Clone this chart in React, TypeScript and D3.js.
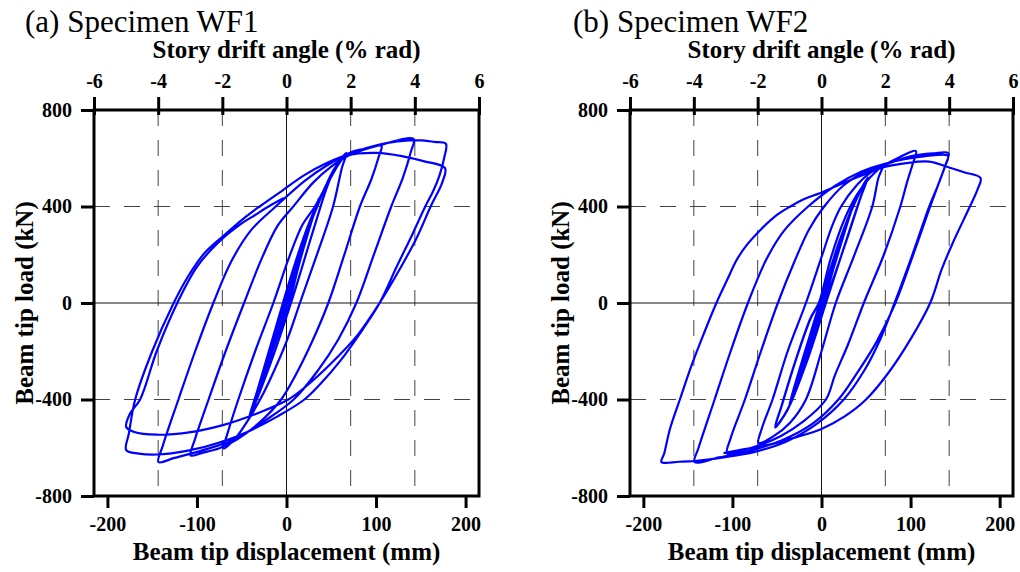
import React, { useRef, useEffect } from 'react';
import * as d3 from 'd3';

type Pt = [number, number];

// axis ticks
const dispTicks = [-200, -100, 0, 100, 200];
const driftTicks = [-6, -4, -2, 0, 2, 4, 6];
const loadTicks = [-800, -400, 0, 400, 800];
const driftGrid = [-4, -2, 2, 4];
const loadGrid = [-400, 400];

const panelTitles = ['(a) Specimen WF1', '(b) Specimen WF2'];

// ---- Specimen WF1: beam tip displacement (mm), load (kN), in loading order ----
const wf1Elastic: Pt[] = [
  [0, 0], [7, 90], [13, 165], [9, 112], [2, 18], [-4, -48], [-13, -162], [-9, -108], [-2, -16],
  [4, 52], [18, 226], [13, 164], [4, 48], [-6, -78], [-18, -222], [-13, -160], [-4, -46],
  [6, 80], [27, 332], [20, 248], [8, 94], [-8, -102], [-27, -332], [-20, -244], [-8, -88],
  [8, 104], [36, 432], [28, 338], [14, 160], [3, 0], [-14, -182], [-36, -432], [-28, -330], [-14, -148], [-2, 10],
  [20, 262], [40, 452], [53, 556], [44, 468], [28, 278], [5, 0], [-18, -252], [-42, -475], [-33, -368], [-18, -178], [-4, 0],
];
const wf1Cycle2: Pt[] = [
  [10, 170], [25, 330], [40, 455], [55, 565], [67, 621],
  [62, 562], [52, 400], [33, 190], [15, 0], [0, -160], [-15, -290], [-28, -390], [-42, -480], [-57, -560], [-70, -603],
  [-65, -530], [-53.8, -400], [-35, -200], [-14.7, 0], [3, 190], [18, 325], [31.8, 400], [48, 510], [67, 615], [88, 640], [106, 652],
];
const wf1Cycle3: Pt[] = [
  [103, 606], [95, 515], [82, 400], [65, 205], [46.7, 0], [28, -165], [10, -300], [-6, -400], [-30, -495], [-55, -565], [-75, -602], [-95, -622], [-107, -632],
  [-102, -562], [-87, -400], [-68, -200], [-47.4, 0], [-27, 190], [-10, 320], [7.6, 400], [30, 500], [50, 565], [70, 612], [105, 655], [142, 680],
];
const wf1Cycle4: Pt[] = [
  [139, 628], [130, 520], [117, 400], [98, 205], [78, 0], [58, -150], [35, -280], [8, -400], [-25, -490], [-60, -568], [-95, -612], [-125, -642], [-143, -659],
  [-138, -590], [-120.7, -400], [-102, -200], [-81.7, 0], [-62, 170], [-40, 300], [-12, 400], [20, 505], [45, 570], [70, 618], [105, 658], [142, 675], [165, 668], [178, 660],
];
const wf1Cycle5a: Pt[] = [
  [176, 600], [171, 530], [164, 465], [155, 400], [140, 280], [123, 150], [104, 0], [85, -110], [60, -240], [38, -335], [20, -400], [-10, -470], [-40, -528], [-72, -575], [-110, -612], [-145, -628], [-165, -624], [-179, -610],
  [-176, -540], [-169, -400], [-150, -200], [-126, 0], [-110, 110], [-92, 205], [-70, 280], [-48, 350], [-30, 400], [-5, 465], [20, 530], [45, 580], [67, 612], [101, 622], [130, 608], [153, 588], [177, 559],
];
const wf1Cycle5b: Pt[] = [
  [174, 500], [161, 400], [146, 275], [128, 150], [104, 0], [80, -130], [50, -250], [22, -345], [2, -400], [-33, -458], [-70, -505], [-107, -535], [-145, -546], [-170, -535], [-179, -514],
  [-175, -460], [-163.5, -400], [-145, -200], [-122, 0], [-100, 150], [-75, 255], [-50, 330], [-35, 365], [-20, 400], [-3, 435],
];

// ---- Specimen WF2 ----
const wf2Elastic: Pt[] = [
  [0, 0], [7, 85], [13, 160], [9, 108], [2, 15], [-4, -50], [-13, -160], [-9, -105], [-2, -14],
  [4, 48], [18, 216], [13, 156], [4, 44], [-6, -76], [-18, -216], [-13, -154], [-4, -40],
  [6, 72], [27, 320], [20, 240], [8, 90], [-8, -100], [-27, -322], [-20, -240], [-8, -84],
  [8, 96], [36, 412], [28, 318], [14, 150], [2, 0], [-14, -182], [-36, -420], [-28, -318], [-14, -148], [-1, 8],
  [12, 150], [36, 410], [28, 320], [14, 152], [3, 0], [-14, -180], [-36, -418], [-28, -316], [-14, -146], [-1, 10],
  [20, 250], [38, 420], [52, 518], [44, 438], [28, 258], [4, 0], [-18, -250], [-38, -440], [-52, -514], [-45, -428], [-30, -248], [-12, -60], [-3, 0],
  [20, 255], [38, 425], [52, 520], [44, 440], [28, 262], [5, 0], [-17, -248], [-38, -442], [-52, -516], [-45, -430], [-30, -250], [-12, -62], [-3, 0],
];
const wf2Cycle2: Pt[] = [
  [10, 180], [25, 340], [40, 450], [55, 522], [68.8, 566],
  [64, 520], [57, 400], [36, 190], [16, 0], [0, -200], [-17.5, -400], [-35, -495], [-55, -555], [-70.7, -580],
  [-67, -520], [-55, -400], [-38, -200], [-17.5, 0], [0, 190], [12, 320], [22, 400], [40, 490], [55, 540], [68.8, 568], [88, 605], [106, 630],
];
const wf2Cycle3: Pt[] = [
  [102, 572], [96, 500], [88.5, 400], [70, 200], [47.5, 0], [30, -170], [15, -300], [5, -400], [-20, -490], [-45, -550], [-70, -590], [-90, -612], [-106, -624],
  [-102, -560], [-86, -400], [-68, -200], [-49, 0], [-30, 175], [-14, 305], [3, 400], [25, 488], [50, 545], [70, 572], [100, 608], [125, 620], [142.4, 621],
];
const wf2Cycle4a: Pt[] = [
  [139, 570], [132, 500], [122, 400], [103, 200], [83, 0], [62, -160], [40, -290], [19, -400], [-10, -500], [-45, -570], [-80, -612], [-115, -640], [-142.5, -659],
  [-138, -600], [-120, -400], [-102, -200], [-82.6, 0], [-62, 180], [-42, 300], [-15, 400], [15, 485], [45, 545], [70, 576], [100, 600], [125, 612], [142, 610],
];
const wf2Cycle4b: Pt[] = [
  [138, 560], [131, 490], [121, 400], [102, 200], [82, 0], [66, -150], [48, -280], [25, -400], [-5, -500], [-40, -575], [-75, -617], [-110, -640], [-142, -655], [-160, -658], [-179.7, -659],
];
const wf2Cycle5: Pt[] = [
  [-176.6, -624], [-170, -520], [-159, -400], [-146, -260], [-132, -126], [-118, 0], [-106, 95], [-95, 180], [-84, 240], [-68, 305], [-50, 365], [-35, 400], [-20, 430], [-2, 455], [20, 490], [43, 525], [69, 562], [95, 580], [121, 586], [140, 566], [160, 542], [178.6, 518],
  [175, 469], [166.6, 400], [147.5, 250], [135, 140], [122, 0], [100, -150], [76, -285], [50, -400], [26, -470], [0, -522], [-30, -558], [-60, -588], [-88, -607], [-110, -622],
];

const wf1Loops = [wf1Elastic, wf1Cycle2, wf1Cycle3, wf1Cycle4, wf1Cycle5a, wf1Cycle5b];
const wf2Loops = [wf2Elastic, wf2Cycle2, wf2Cycle3, wf2Cycle4a, wf2Cycle4b, wf2Cycle5];

const FONT = '"Liberation Serif", "Times New Roman", serif';

const panels = [
  { left: 94, width: 385, titleX: 25, loops: wf1Loops, title: panelTitles[0] },
  { left: 630, width: 383, titleX: 573, loops: wf2Loops, title: panelTitles[1] },
];

const TOP = 110;
const HEIGHT = 386;

export default function App() {
  const ref = useRef<SVGSVGElement>(null);

  useEffect(() => {
    const svg = d3.select(ref.current);
    svg.selectAll('*').remove();

    panels.forEach((p) => {
      const x = d3.scaleLinear().domain([-215, 215]).range([0, p.width]);
      const drift = d3.scaleLinear().domain([-6, 6]).range([0, p.width]);
      const y = d3.scaleLinear().domain([-800, 800]).range([HEIGHT, 0]);

      const g = svg.append('g').attr('transform', `translate(${p.left},${TOP})`);

      // grid
      g.selectAll('.vgrid').data(driftGrid).enter().append('line')
        .attr('x1', d => drift(d)).attr('x2', d => drift(d))
        .attr('y1', 0).attr('y2', HEIGHT)
        .attr('stroke', '#444').attr('stroke-width', 1).attr('stroke-dasharray', '16,14');
      g.selectAll('.hgrid').data(loadGrid).enter().append('line')
        .attr('x1', 0).attr('x2', p.width)
        .attr('y1', d => y(d)).attr('y2', d => y(d))
        .attr('stroke', '#444').attr('stroke-width', 1).attr('stroke-dasharray', '16,14');
      g.append('line').attr('x1', drift(0)).attr('x2', drift(0)).attr('y1', 0).attr('y2', HEIGHT)
        .attr('stroke', '#111').attr('stroke-width', 1);
      g.append('line').attr('x1', 0).attr('x2', p.width).attr('y1', y(0)).attr('y2', y(0))
        .attr('stroke', '#111').attr('stroke-width', 1);

      // hysteresis curve
      const pts = ([] as Pt[]).concat(...p.loops);
      const line = d3.line<Pt>()
        .x(d => x(d[0]))
        .y(d => y(d[1]))
        .curve(d3.curveCatmullRom.alpha(0.5));
      g.append('path')
        .attr('d', line(pts))
        .attr('fill', 'none')
        .attr('stroke', '#0000ff')
        .attr('stroke-width', 2.2)
        .attr('stroke-linejoin', 'round');

      // axes (plain hyphen for negatives, as in the original)
      const fmt = (d: any) => String(d);
      const styleAxis = (a: any) => {
        a.select('.domain').remove();
        a.selectAll('line').attr('stroke', '#000').attr('stroke-width', 3);
        a.selectAll('text')
          .attr('fill', '#000')
          .style('font-family', FONT)
          .style('font-weight', 'bold')
          .style('font-size', '20px');
      };

      g.append('g').attr('transform', `translate(0,${HEIGHT})`)
        .call(d3.axisBottom(x).tickValues(dispTicks).tickSize(12).tickSizeOuter(0).tickPadding(9).tickFormat(fmt))
        .call(styleAxis);

      g.append('g')
        .call(d3.axisTop(drift).tickValues(driftTicks).tickSize(13).tickSizeOuter(0).tickPadding(9).tickFormat(fmt))
        .call(styleAxis)
        .call((a: any) => a.selectAll('line').attr('y1', 5));

      g.append('g')
        .call(d3.axisLeft(y).tickValues(loadTicks).tickSize(13).tickSizeOuter(0).tickPadding(9).tickFormat(fmt))
        .call(styleAxis);

      // frame
      g.append('rect')
        .attr('x', 0).attr('y', 0).attr('width', p.width).attr('height', HEIGHT)
        .attr('fill', 'none').attr('stroke', '#000').attr('stroke-width', 3);

      // titles
      svg.append('text')
        .attr('x', p.titleX).attr('y', 32)
        .style('font-family', FONT).style('font-size', '31px')
        .text(p.title);

      svg.append('text')
        .attr('x', p.left + p.width / 2).attr('y', 58)
        .attr('text-anchor', 'middle')
        .style('font-family', FONT).style('font-size', '25px').style('font-weight', 'bold')
        .text('Story drift angle (% rad)');

      svg.append('text')
        .attr('x', p.left + p.width / 2).attr('y', 560)
        .attr('text-anchor', 'middle')
        .style('font-family', FONT).style('font-size', '25px').style('font-weight', 'bold')
        .text('Beam tip displacement (mm)');

      svg.append('text')
        .attr('transform', `translate(${p.left - 61},${TOP + HEIGHT / 2}) rotate(-90)`)
        .attr('text-anchor', 'middle')
        .style('font-family', FONT).style('font-size', '25px').style('font-weight', 'bold')
        .text('Beam tip load (kN)');
    });
  }, []);

  return (
    <svg
      ref={ref}
      width={1020}
      height={572}
      style={{ position: 'absolute', left: 0, top: 0, background: '#fff' }}
    />
  );
}
